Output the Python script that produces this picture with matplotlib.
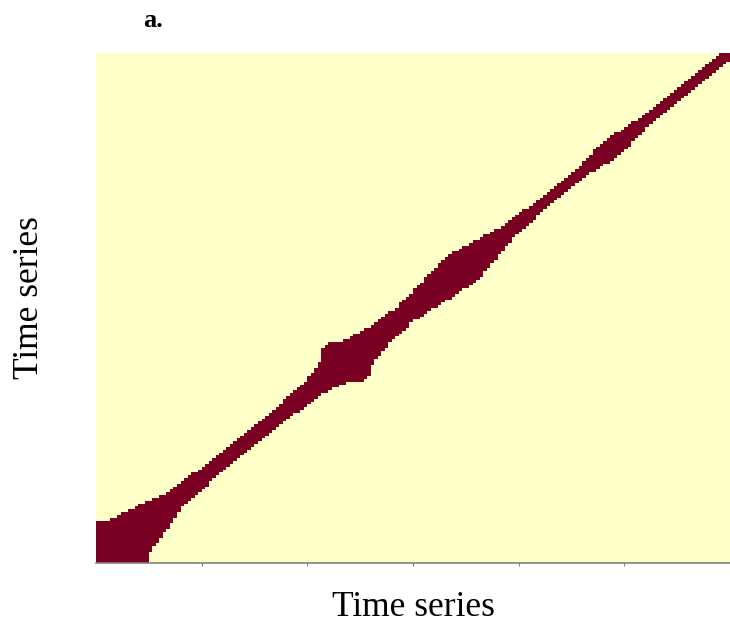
import numpy as np
import matplotlib
matplotlib.use("Agg")
import matplotlib.pyplot as plt
from matplotlib.colors import ListedColormap

# --- data: recurrence-band profile ---
# position along the main diagonal (fraction of series) and half-width of the recurrence band
band_pos = [0.00, 0.06, 0.10, 0.12, 0.15, 0.20, 0.25, 0.30, 0.34, 0.37, 0.397, 0.43,
            0.45, 0.49, 0.53, 0.58, 0.62, 0.65, 0.69, 0.77, 0.80, 0.82, 0.85, 0.93, 1.00]
band_halfwidth = [0.080, 0.060, 0.042, 0.028, 0.023, 0.021, 0.021, 0.022, 0.025, 0.038,
                  0.052, 0.038, 0.030, 0.027, 0.037, 0.048, 0.032, 0.021, 0.016, 0.016,
                  0.023, 0.027, 0.017, 0.013, 0.012]
# square recurrence blocks (start, end) as fractions of the series
block_start = [0.000, 0.358]
block_end = [0.082, 0.436]
n_points = 180
tick_fracs = [1/6, 2/6, 3/6, 4/6, 5/6]

xlabel = "Time series"
ylabel = "Time series"
panel = "a."

# --- build recurrence matrix ---
idx = (np.arange(n_points) + 0.5) / n_points
I, J = np.meshgrid(idx, idx)
centre = (I + J) / 2
dist = np.abs(I - J)
rec = dist <= np.interp(centre, band_pos, band_halfwidth)
for s, e in zip(block_start, block_end):
    inner = (I >= s) & (I <= e) & (J >= s) & (J <= e)
    if s > 0:
        # trim the far corners of the middle block so it reads as a rounded blob
        inner &= dist <= 0.8 * (e - s)
    rec |= inner

plt.rcParams['font.family'] = ['Liberation Serif', 'DejaVu Serif']

fig = plt.figure(figsize=(7.30, 6.26), dpi=100)
ax = fig.add_axes([96/730, 1 - 563/626, 634/730, 510/626])
cmap = ListedColormap(['#ffffc8', '#7a0024'])
ax.imshow(rec.astype(int), origin='lower', cmap=cmap, aspect='auto',
          extent=[0, n_points, 0, n_points], interpolation='nearest')
ax.set_xlim(0, n_points)
ax.set_ylim(0, n_points)
for sp in ['top', 'right', 'left']:
    ax.spines[sp].set_visible(False)
ax.spines['bottom'].set_color('#808080')
ax.spines['bottom'].set_linewidth(1.2)
ax.set_xticks([f * n_points for f in tick_fracs])
ax.set_xticklabels([])
ax.tick_params(axis='x', length=2, color='#808080', direction='out')
ax.set_yticks([])

fig.text(413/730, 1 - 607/626, xlabel, ha='center', va='center', fontsize=25.5)
fig.text(30/730, 1 - 298/626, ylabel, ha='center', va='center', rotation=90, fontsize=25.5)
fig.text(143/730, 1 - 27/626, panel, ha='left', va='baseline', fontsize=19, fontweight='bold')

fig.savefig('out.png', dpi=100)
